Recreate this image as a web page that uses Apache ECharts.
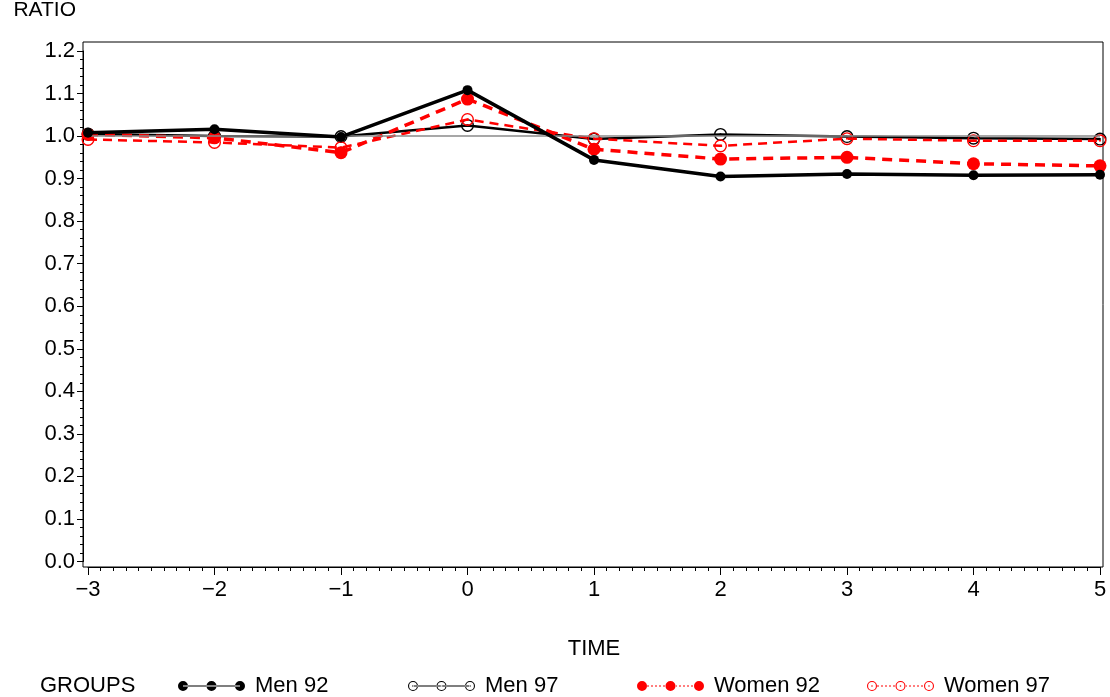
<!DOCTYPE html>
<html>
<head>
<meta charset="utf-8">
<script src="https://cdn.jsdelivr.net/npm/echarts@6/dist/echarts.min.js"></script>
<style>
html,body{margin:0;padding:0;background:#fff;}
#chart{width:1110px;height:697px;}
</style>
</head>
<body>
<div id="chart"></div>
<script>
// ---- data ----
const times   = [-3, -2, -1, 0, 1, 2, 3, 4, 5];
const men92   = [1.008, 1.016, 0.998, 1.108, 0.944, 0.905, 0.911, 0.908, 0.909];
const men97   = [1.005, 1.000, 0.999, 1.025, 0.993, 1.004, 0.999, 0.995, 0.993];
const women92 = [1.004, 0.996, 0.961, 1.087, 0.969, 0.946, 0.950, 0.935, 0.930];
const women97 = [0.992, 0.985, 0.973, 1.039, 0.994, 0.977, 0.994, 0.989, 0.989];
const seriesNames = ['Men 92', 'Men 97', 'Women 92', 'Women 97'];
const refLine = [1.0];
const yTicks = [0.0, 0.1, 0.2, 0.3, 0.4, 0.5, 0.6, 0.7, 0.8, 0.9, 1.0, 1.1, 1.2];
const xTicks = times;

const FONT = '"Liberation Sans", Arial, Helvetica, sans-serif';

// ring-with-dot symbol
const RING = 'path://M1 10 A9 9 0 1 0 19 10 A9 9 0 1 0 1 10 Z M2.9 10 A7.1 7.1 0 1 1 17.1 10 A7.1 7.1 0 1 1 2.9 10 Z M8.6 10 A1.4 1.4 0 1 0 11.4 10 A1.4 1.4 0 1 0 8.6 10 Z';

function circ(cx, cy, r, rev) {
  const s = rev ? 1 : 0;
  return `M${cx - r} ${cy} A${r} ${r} 0 1 ${s} ${cx + r} ${cy} A${r} ${r} 0 1 ${s} ${cx - r} ${cy} Z `;
}
function legendIcon(open, dotted) {
  const r = 5, cy = 5;
  const cxs = [5, 33.5, 62];
  let p = '';
  if (dotted) {
    for (let x = 10; x < 58; x += 4) {
      if (x > 28 && x < 38) continue;
      p += `M${x} 4.5 L${x + 2} 4.5 L${x + 2} 5.5 L${x} 5.5 Z `;
    }
  } else {
    p += `M5 4.4 L62 4.4 L62 5.6 L5 5.6 Z `;
  }
  cxs.forEach(cx => {
    if (open) {
      p += circ(cx, cy, r, false) + circ(cx, cy, r - 1.1, true) + circ(cx, cy, 0.8, false);
    } else {
      p += circ(cx, cy, r, false);
    }
  });
  return 'path://' + p;
}

const colors = ['#000000', '#000000', '#ff0000', '#ff0000'];
const icons = [legendIcon(false, false), legendIcon(true, false), legendIcon(false, true), legendIcon(true, true)];
const legendLefts = [173, 403, 632, 862];

const chart = echarts.init(document.getElementById('chart'));

const option = {
  animation: false,
  backgroundColor: '#ffffff',
  textStyle: { fontFamily: FONT },
  grid: { left: 88, right: 10, top: 48, bottom: 135.5, containLabel: false },
  xAxis: {
    type: 'value',
    min: xTicks[0],
    max: xTicks[xTicks.length - 1],
    interval: 1,
    offset: 5.5,
    name: 'TIME',
    nameLocation: 'middle',
    nameGap: 71,
    nameTextStyle: { fontSize: 22, color: '#000', fontFamily: FONT },
    axisLine: { show: true, onZero: false, lineStyle: { color: '#000', width: 1 } },
    axisTick: { show: true, length: 8, lineStyle: { color: '#000' } },
    minorTick: { show: true, splitNumber: 10, length: 4, lineStyle: { color: '#000' } },
    splitLine: { show: false },
    axisLabel: {
      fontSize: 22, color: '#000', margin: 12, fontFamily: FONT,
      formatter: v => String(v).replace('-', '\u2212')
    }
  },
  yAxis: {
    type: 'value',
    min: yTicks[0],
    max: yTicks[yTicks.length - 1],
    interval: 0.1,
    offset: 5,
    name: 'RATIO',
    nameLocation: 'end',
    nameGap: 30,
    nameTextStyle: { fontSize: 21, color: '#000', align: 'right', padding: [0, 7, 0, 0], fontFamily: FONT },
    axisLine: { show: true, onZero: false, lineStyle: { color: '#000', width: 1 } },
    axisTick: { show: true, length: 6, lineStyle: { color: '#000' } },
    minorTick: { show: true, splitNumber: 5, length: 3, lineStyle: { color: '#000' } },
    splitLine: { show: false },
    axisLabel: {
      fontSize: 22, color: '#000', margin: 8, fontFamily: FONT,
      formatter: v => v.toFixed(1)
    }
  },
  legend: seriesNames.map((n, i) => ({
    left: legendLefts[i],
    top: 670,
    itemWidth: 67,
    itemHeight: 10,
    itemGap: 0,
    selectedMode: false,
    textStyle: { fontSize: 22, color: '#000', fontFamily: FONT, padding: [0, 0, 0, 5] },
    data: [{ name: n, icon: icons[i], itemStyle: { color: colors[i], borderWidth: 0 } }]
  })),
  graphic: [
    {
      type: 'rect', silent: true, z: 0,
      shape: { x: 83, y: 42, width: 1020, height: 525 },
      style: { fill: 'none', stroke: '#000', lineWidth: 1 }
    },
    {
      type: 'text', left: 40, top: 675,
      style: { text: 'GROUPS', fontSize: 22, fill: '#000', fontFamily: FONT }
    }
  ],
  series: [
    {
      name: 'Men 97', type: 'line', z: 2,
      data: times.map((t, i) => [t, men97[i]]),
      symbol: RING, symbolSize: 13,
      lineStyle: { color: '#000', width: 2.5, type: 'solid' },
      itemStyle: { color: '#000', borderWidth: 0 },
      markLine: {
        silent: true, symbol: 'none', label: { show: false },
        lineStyle: { color: '#8a8a8a', width: 1.5, type: 'solid' },
        data: refLine.map(v => ({ yAxis: v }))
      }
    },
    {
      name: 'Women 97', type: 'line', z: 3,
      data: times.map((t, i) => [t, women97[i]]),
      symbol: RING, symbolSize: 13,
      lineStyle: { color: '#ff0000', width: 2.5, type: [9, 6] },
      itemStyle: { color: '#ff0000', borderWidth: 0 }
    },
    {
      name: 'Women 92', type: 'line', z: 4,
      data: times.map((t, i) => [t, women92[i]]),
      symbol: 'circle', symbolSize: 13,
      lineStyle: { color: '#ff0000', width: 3.5, type: [10, 7] },
      itemStyle: { color: '#ff0000', borderWidth: 0 }
    },
    {
      name: 'Men 92', type: 'line', z: 5,
      data: times.map((t, i) => [t, men92[i]]),
      symbol: 'circle', symbolSize: 10,
      lineStyle: { color: '#000', width: 3.5, type: 'solid' },
      itemStyle: { color: '#000', borderWidth: 0 }
    }
  ]
};

chart.setOption(option);
</script>
</body>
</html>
